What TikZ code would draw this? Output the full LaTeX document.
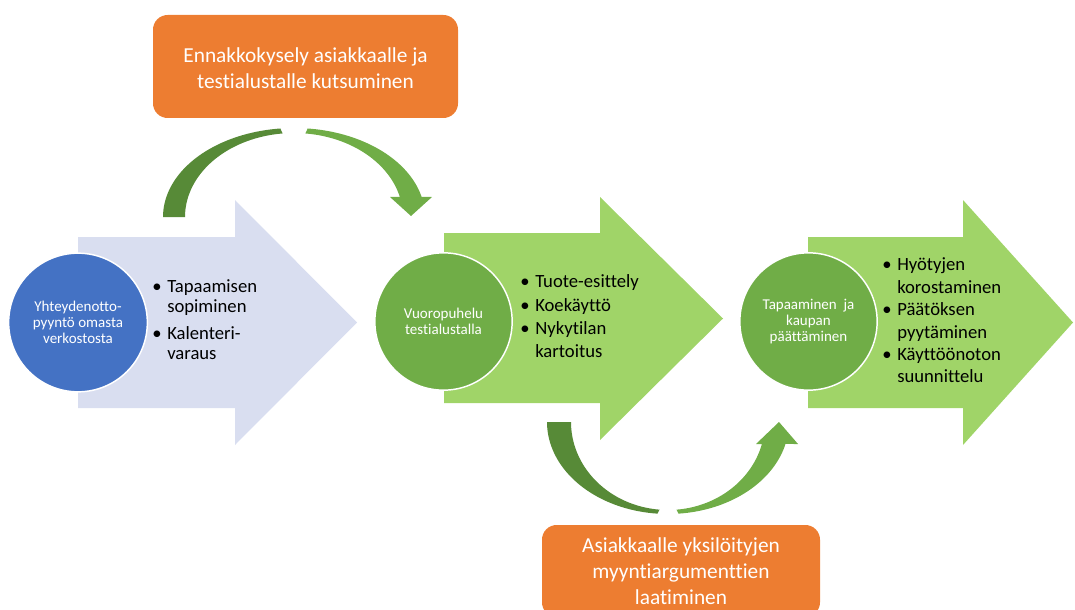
\documentclass[tikz,border=0pt]{standalone}
\usepackage{fontspec}
\setmainfont{Carlito}[Ligatures={NoCommon,NoContextual}]
\definecolor{lav}{HTML}{D9DEF0}
\definecolor{lgreen}{HTML}{A0D468}
\definecolor{mgreen}{HTML}{70AD47}
\definecolor{dgreen}{HTML}{578A37}
\definecolor{cblue}{HTML}{4472C4}
\definecolor{corange}{HTML}{ED7D31}
\newcommand{\bul}{\makebox[11.25pt][l]{\textbullet}}
\tikzset{
  circnode/.style={circle, draw=white, line width=1.1pt, minimum size=103pt, inner sep=0pt,
    text=white, align=center, font=\fontsize{11.25}{12.2}\selectfont},
  obox/.style={rounded corners=11pt, fill=corange, draw=none},
  otext/.style={text=white, align=center, inner sep=0pt, font=\fontsize{16}{19.75}\selectfont},
  blist/.style={anchor=west, inner sep=0pt, text=black}
}
\begin{document}
\begin{tikzpicture}[x=0.75pt,y=-0.75pt]
\useasboundingbox (0,0) rectangle (1075,610);
\clip (0,0) rectangle (1075,610);

% curved arrow (top)
\fill[dgreen] plot[domain=180:96,samples=40] ({294+131*cos(\x)},{217-89*sin(\x)})
  -- plot[domain=96:180,samples=40] ({294+109*cos(\x)},{217-84*sin(\x)}) -- cycle;
\fill[mgreen] plot[domain=84:13,samples=40] ({294+131*cos(\x)},{217-89*sin(\x)})
  -- (432,197) -- (411,216) -- (390,197)
  -- plot[domain=13.8:84,samples=40] ({294+109*cos(\x)},{217-84*sin(\x)}) -- cycle;

% curved arrow (bottom)
\fill[dgreen] plot[domain=180:95,samples=40] ({668+121*cos(\x)},{422+92*sin(\x)})
  -- plot[domain=95:180,samples=40] ({668+97*cos(\x)},{422+88*sin(\x)}) -- cycle;
\fill[mgreen] plot[domain=85:13.83,samples=40] ({668+121*cos(\x)},{422+92*sin(\x)})
  -- (798,444) -- (779,422) -- (756,444)
  -- plot[domain=14.48:85,samples=40] ({668+97*cos(\x)},{422+88*sin(\x)}) -- cycle;

% block arrows
\fill[lav] (78,237) -- (235,237) -- (235,200) -- (357,322.5) -- (235,445) -- (235,408) -- (78,408) -- cycle;
\fill[lgreen] (444,233) -- (600,233) -- (600,197) -- (723,318.5) -- (600,440) -- (600,403) -- (444,403) -- cycle;
\fill[lgreen] (808,237) -- (963,237) -- (963,200) -- (1073,322.5) -- (963,445) -- (963,408) -- (808,408) -- cycle;

% circles
\node[circnode, fill=cblue, minimum size=104pt] (c1) at (78,322.5) {Yhteydenotto-\\pyyntö omasta\\verkostosta};
\node[circnode, fill=mgreen] (c2) at (443.5,321.5) {Vuoropuhelu\\testialustalla};
\node[circnode, fill=mgreen] (c3) at (808.5,321.5) {Tapaaminen\ \ ja\\kaupan\\päättäminen};

% bullet lists
\node[blist] (l1) at (152,321.5) {\fontsize{14}{15}\selectfont
  \begin{tabular}{@{}l@{}l@{}}\bul & Tapaamisen\\ & sopiminen\\[5.25pt] \bul & Kalenteri-\\ & varaus\end{tabular}};
\node[blist] (l2) at (520,318) {\fontsize{14}{17.5}\selectfont
  \begin{tabular}{@{}l@{}l@{}}\bul & Tuote-esittely\\ \bul & Koekäyttö\\ \bul & Nykytilan\\ & kartoitus\end{tabular}};
\node[blist] (l3) at (882,322.5) {\fontsize{14}{16.8}\selectfont
  \begin{tabular}{@{}l@{}l@{}}\bul & Hyötyjen\\ & korostaminen\\ \bul & Päätöksen\\ & pyytäminen\\ \bul & Käyttöönoton\\ & suunnittelu\end{tabular}};

% orange boxes
\node[obox, minimum width=228.75pt, minimum height=77.25pt] (b1) at (305.5,66.5) {};
\node[otext] (t1) at (305.5,68.5) {Ennakkokysely asiakkaalle ja\\testialustalle kutsuminen};
\node[obox, minimum width=208.5pt, minimum height=69pt] (b2) at (681,571) {};
\node[otext] (t2) at (681,571) {Asiakkaalle yksilöityjen\\myyntiargumenttien\\laatiminen};
\end{tikzpicture}
\end{document}
